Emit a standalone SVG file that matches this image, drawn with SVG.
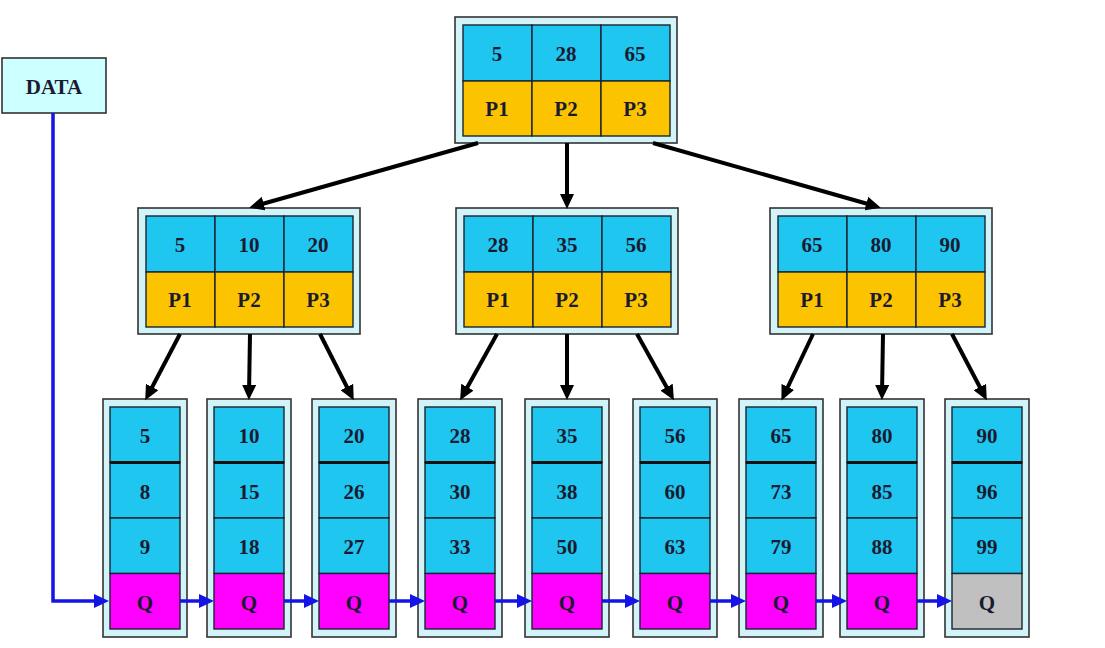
<svg xmlns="http://www.w3.org/2000/svg" width="1105" height="648" viewBox="0 0 1105 648">
<defs>
<style>
.frame{fill:#d2f4f8;stroke:#333;stroke-width:1.6}
.k{fill:#1fc6f0;stroke:#1a2430;stroke-width:1.4}
.p{fill:#fcc400;stroke:#1a2430;stroke-width:1.4}
.q{fill:#ff00ff;stroke:#1a2430;stroke-width:1.4}
.g{fill:#c0c0c0;stroke:#1a2430;stroke-width:1.4}
.t{font-family:"Liberation Serif","Times New Roman",serif;font-weight:bold;font-size:21px;fill:#1a1a30;text-anchor:middle;dominant-baseline:central}
.bk{stroke:#000;stroke-width:4;fill:none;marker-end:url(#ah)}
.bl{stroke:#1414e6;stroke-width:3.5;fill:none;marker-end:url(#bh)}
.thick{stroke:#111;stroke-width:3}
</style>
<marker id="ah" markerUnits="userSpaceOnUse" markerWidth="16" markerHeight="14" refX="9" refY="7" orient="auto"><path d="M0,0 L15,7 L0,14 z" fill="#000"/></marker>
<marker id="bh" markerUnits="userSpaceOnUse" markerWidth="16" markerHeight="14" refX="8" refY="7" orient="auto"><path d="M0,0 L15,7 L0,14 z" fill="#1414e6"/></marker>
</defs>
<rect width="1105" height="648" fill="#fff"/>

<g id="data">
<rect x="2" y="58" width="104" height="55" fill="#ccffff" stroke="#333" stroke-width="1.6"/>
<text class="t" x="54" y="87">DATA</text>
</g>

<g id="root">
<rect class="frame" x="455" y="17" width="222" height="126"/>
<rect class="k" x="463" y="25" width="69" height="56"/><rect class="k" x="532" y="25" width="69" height="56"/><rect class="k" x="601" y="25" width="69" height="56"/>
<rect class="p" x="463" y="81" width="69" height="55"/><rect class="p" x="532" y="81" width="69" height="55"/><rect class="p" x="601" y="81" width="69" height="55"/>
<text class="t" x="497" y="54">5</text><text class="t" x="566" y="54">28</text><text class="t" x="635" y="54">65</text>
<text class="t" x="497" y="109">P1</text><text class="t" x="566" y="109">P2</text><text class="t" x="635" y="109">P3</text>
</g>

<g id="n-left">
<rect class="frame" x="138" y="208" width="222" height="126"/>
<rect class="k" x="146" y="216" width="69" height="56"/><rect class="k" x="215" y="216" width="69" height="56"/><rect class="k" x="284" y="216" width="69" height="56"/>
<rect class="p" x="146" y="272" width="69" height="55"/><rect class="p" x="215" y="272" width="69" height="55"/><rect class="p" x="284" y="272" width="69" height="55"/>
<text class="t" x="180" y="245">5</text><text class="t" x="249" y="245">10</text><text class="t" x="318" y="245">20</text>
<text class="t" x="180" y="300">P1</text><text class="t" x="249" y="300">P2</text><text class="t" x="318" y="300">P3</text>
</g>

<g id="n-mid">
<rect class="frame" x="456" y="208" width="222" height="126"/>
<rect class="k" x="464" y="216" width="69" height="56"/><rect class="k" x="533" y="216" width="69" height="56"/><rect class="k" x="602" y="216" width="69" height="56"/>
<rect class="p" x="464" y="272" width="69" height="55"/><rect class="p" x="533" y="272" width="69" height="55"/><rect class="p" x="602" y="272" width="69" height="55"/>
<text class="t" x="498" y="245">28</text><text class="t" x="567" y="245">35</text><text class="t" x="636" y="245">56</text>
<text class="t" x="498" y="300">P1</text><text class="t" x="567" y="300">P2</text><text class="t" x="636" y="300">P3</text>
</g>

<g id="n-right">
<rect class="frame" x="770" y="208" width="222" height="126"/>
<rect class="k" x="778" y="216" width="69" height="56"/><rect class="k" x="847" y="216" width="69" height="56"/><rect class="k" x="916" y="216" width="69" height="56"/>
<rect class="p" x="778" y="272" width="69" height="55"/><rect class="p" x="847" y="272" width="69" height="55"/><rect class="p" x="916" y="272" width="69" height="55"/>
<text class="t" x="812" y="245">65</text><text class="t" x="881" y="245">80</text><text class="t" x="950" y="245">90</text>
<text class="t" x="812" y="300">P1</text><text class="t" x="881" y="300">P2</text><text class="t" x="950" y="300">P3</text>
</g>

<g id="leaf1" transform="translate(103,0)">
<rect class="frame" x="0" y="399" width="84" height="238"/>
<rect class="k" x="7" y="407" width="70" height="55.5"/><rect class="k" x="7" y="462.5" width="70" height="55.5"/><rect class="k" x="7" y="518" width="70" height="55.5"/><rect class="q" x="7" y="573.5" width="70" height="55.5"/>
<line class="thick" x1="7" y1="462.5" x2="77" y2="462.5"/>
<text class="t" x="42" y="436">5</text><text class="t" x="42" y="492">8</text><text class="t" x="42" y="547">9</text><text class="t" x="42" y="603">Q</text>
</g>
<g id="leaf2" transform="translate(207,0)">
<rect class="frame" x="0" y="399" width="84" height="238"/>
<rect class="k" x="7" y="407" width="70" height="55.5"/><rect class="k" x="7" y="462.5" width="70" height="55.5"/><rect class="k" x="7" y="518" width="70" height="55.5"/><rect class="q" x="7" y="573.5" width="70" height="55.5"/>
<line class="thick" x1="7" y1="462.5" x2="77" y2="462.5"/>
<text class="t" x="42" y="436">10</text><text class="t" x="42" y="492">15</text><text class="t" x="42" y="547">18</text><text class="t" x="42" y="603">Q</text>
</g>
<g id="leaf3" transform="translate(312,0)">
<rect class="frame" x="0" y="399" width="84" height="238"/>
<rect class="k" x="7" y="407" width="70" height="55.5"/><rect class="k" x="7" y="462.5" width="70" height="55.5"/><rect class="k" x="7" y="518" width="70" height="55.5"/><rect class="q" x="7" y="573.5" width="70" height="55.5"/>
<line class="thick" x1="7" y1="462.5" x2="77" y2="462.5"/>
<text class="t" x="42" y="436">20</text><text class="t" x="42" y="492">26</text><text class="t" x="42" y="547">27</text><text class="t" x="42" y="603">Q</text>
</g>
<g id="leaf4" transform="translate(418,0)">
<rect class="frame" x="0" y="399" width="84" height="238"/>
<rect class="k" x="7" y="407" width="70" height="55.5"/><rect class="k" x="7" y="462.5" width="70" height="55.5"/><rect class="k" x="7" y="518" width="70" height="55.5"/><rect class="q" x="7" y="573.5" width="70" height="55.5"/>
<line class="thick" x1="7" y1="462.5" x2="77" y2="462.5"/>
<text class="t" x="42" y="436">28</text><text class="t" x="42" y="492">30</text><text class="t" x="42" y="547">33</text><text class="t" x="42" y="603">Q</text>
</g>
<g id="leaf5" transform="translate(525,0)">
<rect class="frame" x="0" y="399" width="84" height="238"/>
<rect class="k" x="7" y="407" width="70" height="55.5"/><rect class="k" x="7" y="462.5" width="70" height="55.5"/><rect class="k" x="7" y="518" width="70" height="55.5"/><rect class="q" x="7" y="573.5" width="70" height="55.5"/>
<line class="thick" x1="7" y1="462.5" x2="77" y2="462.5"/>
<text class="t" x="42" y="436">35</text><text class="t" x="42" y="492">38</text><text class="t" x="42" y="547">50</text><text class="t" x="42" y="603">Q</text>
</g>
<g id="leaf6" transform="translate(633,0)">
<rect class="frame" x="0" y="399" width="84" height="238"/>
<rect class="k" x="7" y="407" width="70" height="55.5"/><rect class="k" x="7" y="462.5" width="70" height="55.5"/><rect class="k" x="7" y="518" width="70" height="55.5"/><rect class="q" x="7" y="573.5" width="70" height="55.5"/>
<line class="thick" x1="7" y1="462.5" x2="77" y2="462.5"/>
<text class="t" x="42" y="436">56</text><text class="t" x="42" y="492">60</text><text class="t" x="42" y="547">63</text><text class="t" x="42" y="603">Q</text>
</g>
<g id="leaf7" transform="translate(739,0)">
<rect class="frame" x="0" y="399" width="84" height="238"/>
<rect class="k" x="7" y="407" width="70" height="55.5"/><rect class="k" x="7" y="462.5" width="70" height="55.5"/><rect class="k" x="7" y="518" width="70" height="55.5"/><rect class="q" x="7" y="573.5" width="70" height="55.5"/>
<line class="thick" x1="7" y1="462.5" x2="77" y2="462.5"/>
<text class="t" x="42" y="436">65</text><text class="t" x="42" y="492">73</text><text class="t" x="42" y="547">79</text><text class="t" x="42" y="603">Q</text>
</g>
<g id="leaf8" transform="translate(840,0)">
<rect class="frame" x="0" y="399" width="84" height="238"/>
<rect class="k" x="7" y="407" width="70" height="55.5"/><rect class="k" x="7" y="462.5" width="70" height="55.5"/><rect class="k" x="7" y="518" width="70" height="55.5"/><rect class="q" x="7" y="573.5" width="70" height="55.5"/>
<line class="thick" x1="7" y1="462.5" x2="77" y2="462.5"/>
<text class="t" x="42" y="436">80</text><text class="t" x="42" y="492">85</text><text class="t" x="42" y="547">88</text><text class="t" x="42" y="603">Q</text>
</g>
<g id="leaf9" transform="translate(945,0)">
<rect class="frame" x="0" y="399" width="84" height="238"/>
<rect class="k" x="7" y="407" width="70" height="55.5"/><rect class="k" x="7" y="462.5" width="70" height="55.5"/><rect class="k" x="7" y="518" width="70" height="55.5"/><rect class="g" x="7" y="573.5" width="70" height="55.5"/>
<line class="thick" x1="7" y1="462.5" x2="77" y2="462.5"/>
<text class="t" x="42" y="436">90</text><text class="t" x="42" y="492">96</text><text class="t" x="42" y="547">99</text><text class="t" x="42" y="603">Q</text>
</g>

<g id="connectors">
<path class="bl" d="M53,113 V601 H102"/>
<line class="bk" x1="478" y1="143" x2="255" y2="206"/>
<line class="bk" x1="567" y1="143" x2="567" y2="203"/>
<line class="bk" x1="653" y1="143" x2="875" y2="206"/>
<line class="bk" x1="180" y1="334" x2="148" y2="395"/>
<line class="bk" x1="250" y1="334" x2="249" y2="394"/>
<line class="bk" x1="320" y1="334" x2="351" y2="395"/>
<line class="bk" x1="497" y1="334" x2="463" y2="395"/>
<line class="bk" x1="567" y1="334" x2="567" y2="394"/>
<line class="bk" x1="637" y1="334" x2="671" y2="395"/>
<line class="bk" x1="813" y1="334" x2="784" y2="395"/>
<line class="bk" x1="883" y1="334" x2="882" y2="394"/>
<line class="bk" x1="952" y1="334" x2="984" y2="395"/>
<line class="bl" x1="180" y1="601" x2="207" y2="601"/>
<line class="bl" x1="284" y1="601" x2="312" y2="601"/>
<line class="bl" x1="389" y1="601" x2="418" y2="601"/>
<line class="bl" x1="495" y1="601" x2="525" y2="601"/>
<line class="bl" x1="602" y1="601" x2="633" y2="601"/>
<line class="bl" x1="710" y1="601" x2="739" y2="601"/>
<line class="bl" x1="816" y1="601" x2="840" y2="601"/>
<line class="bl" x1="917" y1="601" x2="945" y2="601"/>
</g>
</svg>
